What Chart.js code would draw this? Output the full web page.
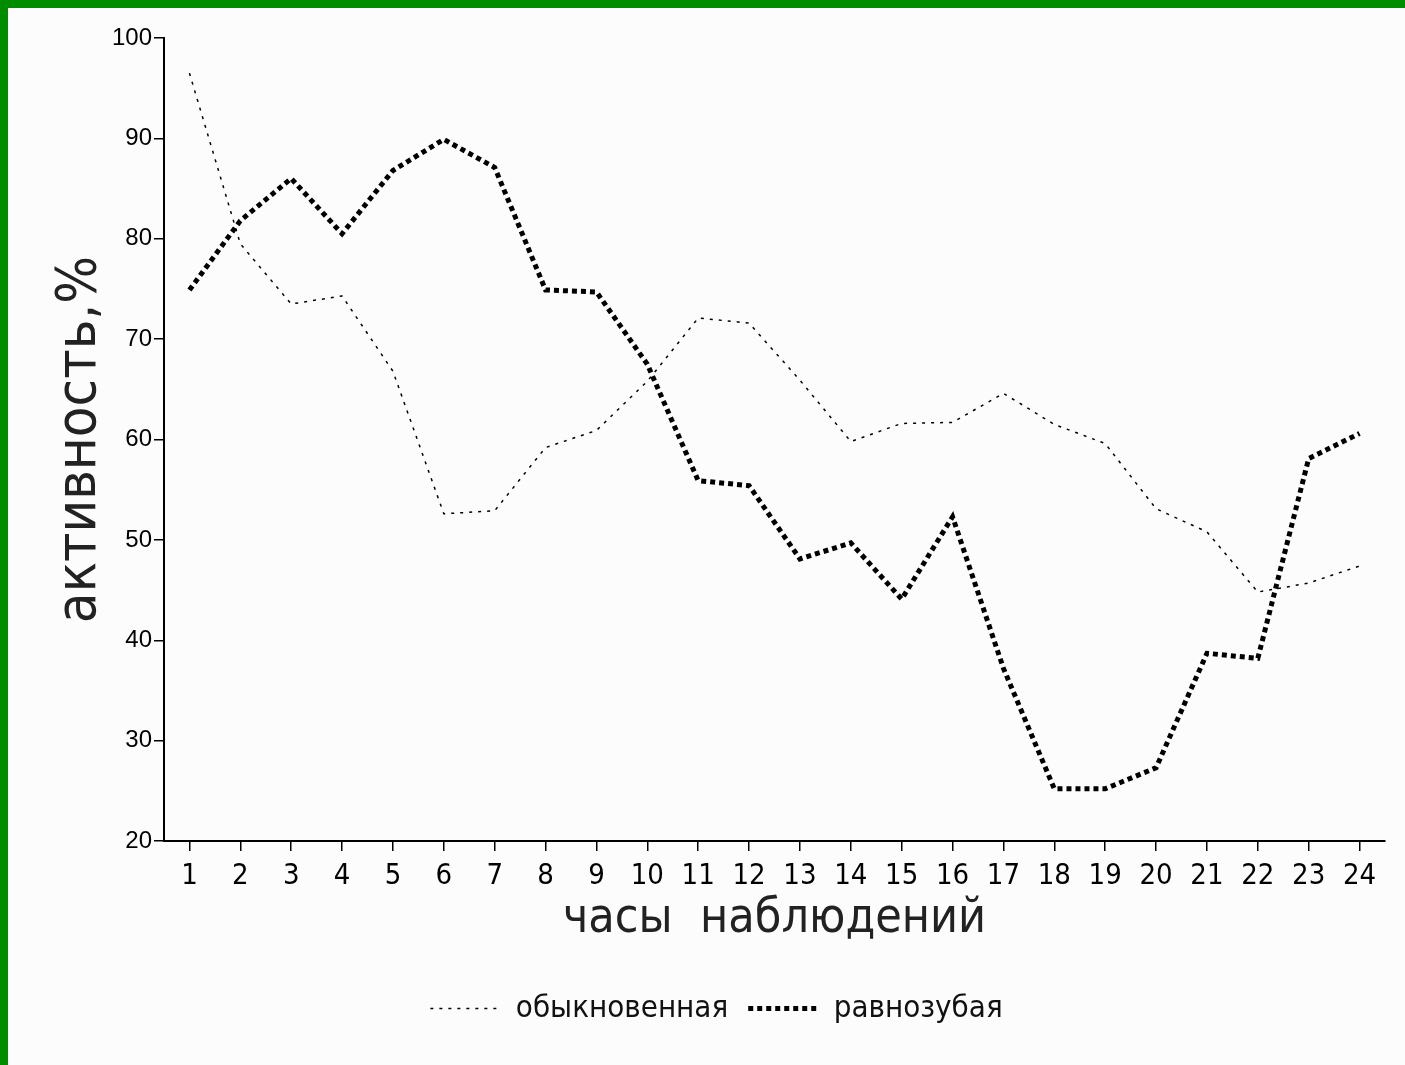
<!DOCTYPE html>
<html>
<head>
<meta charset="utf-8">
<script src="https://cdn.jsdelivr.net/npm/chart.js@4/dist/chart.umd.min.js"></script>
<style>
  html, body { margin: 0; padding: 0; background: #008c00; }
  #wrap { position: absolute; left: 8px; top: 8px; width: 1397px; height: 1057px; background: #fcfcfc; }
</style>
</head>
<body>
<div id="wrap"><canvas id="activityChart" width="1397" height="1057"></canvas></div>
<script>
// часы наблюдений
const hours = ['1','2','3','4','5','6','7','8','9','10','11','12','13','14','15','16','17','18','19','20','21','22','23','24'];
// активность, %
const obyknovennaya = [96.5, 79.5, 73.5, 74.3, 66.8, 52.6, 52.9, 59.2, 60.9, 65.8, 72.1, 71.6, 65.9, 59.8, 61.6, 61.7, 64.6, 61.5, 59.6, 53.1, 50.8, 44.8, 45.7, 47.4];
const ravnozubaya = [74.9, 81.8, 86.0, 80.5, 86.8, 89.9, 87.1, 74.9, 74.7, 67.5, 55.9, 55.4, 48.1, 49.7, 44.1, 52.3, 37.2, 25.2, 25.2, 27.3, 38.7, 38.2, 58.1, 60.6];
const yMin = 20, yMax = 100, yStep = 10;

const narrow = "'Liberation Sans Narrow', 'DejaVu Sans Condensed', 'Liberation Sans', sans-serif";

const ctx = document.getElementById('activityChart');
const myChart = new Chart(ctx, {
    type: 'line',
    data: {
        labels: hours,
        datasets: [{
            label: 'обыкновенная',
            data: obyknovennaya,
            borderColor: '#000',
            backgroundColor: 'transparent',
            borderWidth: 1.5,
            borderDash: [3, 6],
            pointRadius: 0,
            tension: 0
        }, {
            label: 'равнозубая',
            data: ravnozubaya,
            borderColor: '#000',
            backgroundColor: 'transparent',
            borderWidth: 5,
            borderDash: [5, 4],
            pointRadius: 0,
            tension: 0
        }]
    },
    options: {
        responsive: false,
        animation: false,
        layout: { padding: { top: 30, right: 20, left: 40, bottom: 31 } },
        plugins: {
            tooltip: { enabled: false },
            legend: {
                position: 'bottom',
                labels: {
                    usePointStyle: true,
                    pointStyle: 'line',
                    pointStyleWidth: 70,
                    color: '#111',
                    padding: 20,
                    font: { family: narrow, size: 31 },
                    // keep dash and width of the lines in the legend samples
                    generateLabels: function (chart) {
                        const items = Chart.defaults.plugins.legend.labels.generateLabels(chart);
                        items.forEach(function (it, i) {
                            const ds = chart.data.datasets[i];
                            it.lineDash = ds.borderDash;
                            it.lineWidth = ds.borderWidth;
                        });
                        return items;
                    }
                }
            }
        },
        scales: {
            x: {
                offset: true,
                border: { display: true, color: '#000', width: 2 },
                grid: { display: true, offset: false, drawOnChartArea: false, drawTicks: true, tickLength: 10, color: '#000', lineWidth: 1.5 },
                ticks: { color: '#000', padding: 8, maxRotation: 0, autoSkip: false, font: { family: narrow, size: 29 } },
                title: {
                    display: true,
                    text: 'часы  наблюдений',
                    color: '#222',
                    font: { family: narrow, size: 48 },
                    padding: { top: 0, bottom: 25 }
                },
                afterFit: function (scale) { scale.height = 132; }
            },
            y: {
                min: yMin,
                max: yMax,
                border: { display: true, color: '#000', width: 2 },
                grid: { display: true, drawOnChartArea: false, drawTicks: true, tickLength: 10, color: '#000', lineWidth: 1.5 },
                ticks: { stepSize: yStep, color: '#000', padding: 2, font: { family: "'Liberation Sans', sans-serif", size: 24 } },
                title: {
                    display: true,
                    text: 'активность,%',
                    color: '#222',
                    font: { family: narrow, size: 56, lineHeight: 1.0 },
                    padding: { top: 4, bottom: 0 }
                },
                afterFit: function (scale) { scale.width = 116; }
            }
        }
    }
});
</script>
</body>
</html>
